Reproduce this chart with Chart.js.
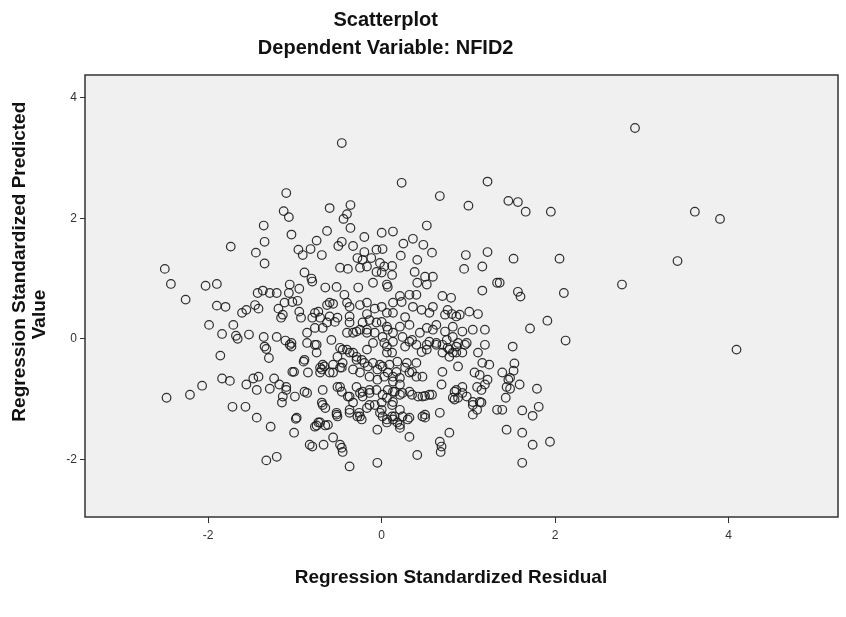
<!DOCTYPE html>
<html>
<head>
<meta charset="utf-8">
<script src="https://cdn.jsdelivr.net/npm/chart.js@4.4.1/dist/chart.umd.min.js"></script>
<style>
  html, body { margin: 0; padding: 0; background: #fff; }
  #wrap { width: 846px; height: 617px; }
</style>
</head>
<body>
<div id="wrap"><canvas id="myChart"></canvas></div>
<script>
// residual (x), predicted (y) per case
const cases = [
  // right side
  [2.92,3.50],[1.46,2.29],[1.57,2.27],[1.66,2.11],[1.95,2.11],[3.61,2.11],[3.90,1.99],[1.52,1.33],[2.05,1.33],[3.41,1.29],
  [1.36,0.93],[2.77,0.90],[1.57,0.78],[1.60,0.70],[2.10,0.76],[1.91,0.30],[1.71,0.17],[2.12,-0.03],[1.51,-0.13],[4.09,-0.18],
  [1.53,-0.41],[1.39,-0.56],[1.52,-0.53],[1.46,-0.68],[1.59,-0.76],[1.48,-0.83],[1.79,-0.83],[1.43,-0.98],[1.39,-1.18],[1.62,-1.19],
  [1.81,-1.13],[1.74,-1.28],[1.44,-1.51],[1.62,-1.56],[1.74,-1.76],[1.94,-1.71],[1.62,-2.06],[-0.46,3.25],
  // upper left
  [-1.10,2.42],[-1.13,2.12],[-1.07,2.02],[-1.36,1.88],[-1.04,1.73],[-1.35,1.61],[-1.74,1.53],[-1.45,1.43],[-1.35,1.25],[-0.96,1.48],
  [-0.91,1.39],[-0.82,1.49],[-0.75,1.63],[-0.69,1.39],[-0.63,1.79],[-0.60,2.17],[-2.50,1.16],[-2.43,0.91],[-2.26,0.65],[-2.03,0.88],
  [-1.90,0.91],[-1.90,0.55],[-1.80,0.53],[-0.89,1.10],[-0.81,1.00],[-0.80,0.95],[-0.65,0.85],[-1.06,0.90],[-0.95,0.83],[-1.43,0.76],
  [-1.37,0.80],[-1.29,0.76],[-1.21,0.76],[-1.07,0.76],[-1.46,0.56],[-1.42,0.50],[-1.56,0.48],[-1.61,0.43],[-1.19,0.50],[-1.14,0.40],
  [-1.16,0.35],[-1.12,0.60],[-1.03,0.61],[-0.97,0.63],[-0.95,0.45],[-0.93,0.35],[-0.80,0.35],[-0.73,0.45],[-0.63,0.56],[-0.71,0.35],
  [-1.99,0.23],[-1.71,0.23],
  // lower left
  [-1.84,0.08],[-1.68,0.05],[-1.66,0.00],[-1.53,0.07],[-1.36,0.03],[-1.35,-0.13],[-1.33,-0.17],[-1.30,-0.32],[-1.21,0.03],[-1.11,-0.03],
  [-1.06,-0.10],[-1.04,-0.13],[-0.86,-0.07],[-0.75,-0.10],[-0.75,-0.23],[-1.86,-0.28],[-1.01,-0.55],[-0.90,-0.38],[-0.85,-0.56],[-0.69,-0.51],
  [-1.84,-0.66],[-1.75,-0.70],[-1.56,-0.76],[-1.48,-0.66],[-1.42,-0.63],[-1.44,-0.85],[-1.29,-0.83],[-1.24,-0.66],[-1.18,-0.76],[-1.10,-0.80],
  [-1.14,-0.96],[-1.15,-1.06],[-1.00,-0.96],[-0.86,-0.90],[-0.68,-0.85],[-0.68,-1.10],[-2.07,-0.78],[-2.21,-0.93],[-2.48,-0.98],[-1.72,-1.13],
  [-1.57,-1.13],[-1.44,-1.31],[-1.28,-1.46],[-0.99,-1.33],[-1.01,-1.56],[-0.75,-1.44],[-0.73,-1.39],[-0.65,-1.44],[-0.80,-1.79],[-0.67,-1.76],
  [-1.33,-2.02],[-1.21,-1.96],
  // upper middle
  [-0.36,2.22],[-0.44,1.99],[-0.40,2.07],[-0.36,1.84],[-0.20,1.69],[0.00,1.76],[-0.46,1.61],[-0.50,1.54],[-0.33,1.54],[-0.20,1.44],
  [-0.06,1.48],[0.01,1.49],[-0.28,1.34],[-0.22,1.31],[-0.12,1.34],[-0.48,1.18],[-0.39,1.16],[-0.25,1.18],[-0.17,1.20],[-0.02,1.26],
  [0.03,1.20],[-0.06,1.11],[0.00,1.10],[-0.52,0.86],[-0.43,0.73],[-0.27,0.85],[-0.10,0.93],[0.06,0.90],[-0.60,0.60],[-0.56,0.58],
  [-0.40,0.60],[-0.37,0.53],[-0.25,0.56],[-0.17,0.60],[-0.08,0.50],[-0.17,0.41],[0.00,0.53],[0.06,0.43],[-0.37,0.37],[-0.60,0.37],
  [-0.51,0.35],
  [0.23,2.59],[0.67,2.37],[1.00,2.21],[1.22,2.61],[0.52,1.88],[0.13,1.78],[0.25,1.58],[0.36,1.66],[0.48,1.56],[0.58,1.43],
  [0.22,1.38],[0.41,1.31],[0.38,1.11],[0.50,1.03],[0.59,1.03],[0.52,0.90],[0.41,0.93],[0.12,1.06],[0.07,0.86],[0.97,1.39],
  [0.95,1.16],[1.16,1.20],[1.22,1.44],[1.16,0.80],[0.70,0.71],[0.80,0.68],[0.21,0.71],[0.32,0.73],[0.40,0.73],
  [1.33,0.93],[0.12,1.21],[1.01,0.45],[1.11,0.41],[0.90,0.40],[0.76,0.48],[0.81,0.41],[0.59,0.53],[0.55,0.43],[0.46,0.48],
  [0.36,0.53],[0.23,0.61],[0.13,0.60],[0.13,0.43],[0.27,0.36],
  // centre
  [-0.68,0.18],[-0.58,-0.02],[-0.77,-0.10],[-0.40,0.10],[-0.29,0.12],[-0.17,0.15],[-0.06,0.27],[0.00,0.28],[0.07,0.15],[0.21,0.20],
  [0.32,0.23],[0.44,0.10],[0.52,0.18],[0.63,0.23],[0.73,0.12],[0.82,0.20],[0.93,0.12],[1.05,0.15],[1.19,0.15],[1.19,-0.10],
  [0.96,-0.10],[0.86,-0.13],[0.78,-0.18],[0.70,-0.10],[0.86,-0.23],[0.93,-0.23],[1.11,-0.23],[1.16,-0.40],[1.07,-0.56],[1.13,-0.60],
  [0.52,-0.10],[0.63,-0.10],[0.35,-0.02],[0.27,-0.13],[0.13,-0.05],[0.06,-0.13],[0.12,-0.23],[-0.10,-0.07],[-0.17,-0.18],[-0.23,-0.35],
  [-0.29,-0.30],[-0.37,-0.23],[-0.45,-0.18],[-0.51,-0.30],[-0.66,-0.46],[-0.71,-0.56],[-0.56,-0.56],[-0.46,-0.48],[-0.33,-0.51],[-0.25,-0.56],
  [-0.16,-0.46],[-0.02,-0.43],[0.09,-0.43],[0.18,-0.38],[0.29,-0.40],[0.40,-0.40],[0.47,-0.63],[0.32,-0.56],[0.21,-0.65],[0.13,-0.63],
  [0.03,-0.63],[-0.05,-0.68],[-0.14,-0.63],[0.70,-0.55],[0.69,-0.76],[0.86,-0.85],[0.93,-0.80],[0.98,-0.96],[0.84,-1.01],[1.05,-1.05],
  [1.10,-1.18],[1.05,-1.26],[1.15,-1.06],[0.55,-0.93],[0.47,-0.96],[0.32,-0.88],[0.21,-0.93],[0.13,-0.88],[0.06,-0.98],[-0.06,-0.85],
  [-0.14,-0.90],[-0.22,-0.88],[-0.29,-0.80],[-0.37,-0.96],[-0.48,-0.80],[-0.46,-0.88],[0.67,-1.23],[0.78,-1.56],[0.67,-1.71],[0.69,-1.79],
  [0.68,-1.88],[0.41,-1.93],[-0.05,-2.06],[-0.37,-2.12],[-0.83,-1.76],[-0.56,-1.64],[-0.46,-1.81],[-0.45,-1.88],[-0.52,-1.26],[-0.51,-1.29],
  [-0.37,-1.18],[-0.25,-1.29],[-0.23,-1.34],[-0.02,-1.23],[-0.05,-1.51],[0.12,-1.29],[0.18,-1.39],[0.30,-1.34],[0.32,-1.63],[0.50,-1.26],
  [0.50,-1.31],[0.21,-1.48],[0.06,-1.34],[0.00,-1.06],[0.13,-1.05],[-0.14,-1.10],[-0.17,-1.15],
  [1.48,-0.65],[1.44,-0.80],[1.33,-1.18],[0.88,-0.46],[0.88,-0.07],[0.82,0.03],[0.98,-0.07],[0.86,0.37],[0.73,0.40],[1.24,-0.43],
  [1.10,-0.80],[1.15,-0.85],[1.13,-1.05],[1.05,-1.10],[1.19,-0.76],[1.22,-0.68],[0.93,-0.90],[0.88,-0.98],[0.82,-0.98],[0.84,-0.88],
  [0.59,0.15],[0.55,-0.05],[0.52,-0.18],[0.46,-0.22],[0.40,-0.10],[0.32,-0.05],[0.24,0.03],[0.13,0.10],[0.06,0.20],[0.01,0.03],
  [0.03,-0.07],[0.06,-0.23],[0.75,-0.02],[0.76,-0.15],[0.82,-0.23],[0.78,-0.30],[0.70,-0.23],[0.63,-0.07],[0.07,-0.56],[0.17,-0.55],
  [0.27,-0.48],[0.35,-0.55],[0.40,-0.63],[0.13,-0.71],[0.21,-0.76],[0.07,-0.85],[0.15,-0.88],[0.24,-0.90],[0.35,-0.93],[0.42,-0.96],
  [0.50,-0.95],[0.58,-0.93],[0.12,-1.10],[0.21,-1.18],[0.15,-1.29],[0.24,-1.29],[0.32,-1.31],[0.21,-1.43],[0.13,-1.34],[0.47,-1.29],
  [0.01,-1.29],[0.06,-1.39],
  [-1.04,-0.07],[-0.89,-0.35],[-1.03,-0.55],[-0.86,0.10],[-0.77,0.18],[-0.77,0.43],[-0.63,0.27],[-0.54,0.28],[-0.48,-0.15],[-0.71,-0.48],
  [-0.68,-0.43],[-0.56,-0.43],[-0.60,-0.56],[-0.48,-0.48],[-0.45,-0.40],[-0.37,0.27],[-0.33,0.10],[-0.25,0.15],[-0.22,0.27],[-0.14,0.31],
  [-0.17,0.10],[-0.08,0.10],[-0.40,-0.18],[-0.33,-0.23],[-0.29,-0.35],[-0.20,-0.40],[-0.10,-0.40],[-0.05,-0.51],[0.01,-0.46],[-1.10,-0.85],
  [-0.89,-0.88],[-0.51,-0.80],[-0.39,-0.96],[-0.33,-1.06],[-0.25,-0.90],[-0.22,-0.96],[-0.14,-0.85],[0.01,-0.93],[-0.08,-1.10],[0.00,-1.18],
  [-0.69,-1.06],[-0.65,-1.15],[-0.77,-1.46],[-0.71,-1.39],[-0.62,-1.43],[-0.52,-1.23],[-0.37,-1.23],[-0.28,-1.29],[-0.26,-1.23],[-0.98,-1.31],
  [-0.48,-1.76]
];

const xTicks = [-2, 0, 2, 4];
const yTicks = [-2, 0, 2, 4];
const xRange = [-3.42, 5.26];
const yRange = [-2.96, 4.38];

const FONT = 'Liberation Sans, Arial, sans-serif';

// grey plot area with a dark frame, like the SPSS output
const plotFrame = {
  id: 'plotFrame',
  beforeDatasetsDraw(chart) {
    const a = chart.chartArea, c = chart.ctx;
    c.save();
    c.fillStyle = '#f0f0f0';
    c.fillRect(a.left, a.top, a.right - a.left, a.bottom - a.top);
    c.restore();
  },
  afterDatasetsDraw(chart) {
    const a = chart.chartArea, c = chart.ctx;
    c.save();
    c.strokeStyle = '#333';
    c.lineWidth = 1.5;
    c.strokeRect(a.left, a.top, a.right - a.left, a.bottom - a.top);
    c.restore();
  }
};

const ctx = document.getElementById('myChart');
new Chart(ctx, {
  type: 'scatter',
  data: {
    datasets: [{
      data: cases.map(p => ({x: p[0], y: p[1]})),
      pointRadius: 4.3,
      pointBorderWidth: 1.2,
      pointBorderColor: 'rgba(25,25,25,0.9)',
      pointBackgroundColor: 'transparent',
      clip: false
    }]
  },
  options: {
    responsive: true,
    maintainAspectRatio: false,
    animation: false,
    layout: { padding: { left: 0, right: 8, top: 0, bottom: 0 } },
    plugins: {
      legend: { display: false },
      tooltip: { enabled: false },
      title: {
        display: true,
        // trailing spaces pull the centred lines a little left, as in the original
        text: ['Scatterplot            ', 'Dependent Variable: NFID2            '],
        color: '#111',
        font: { family: FONT, size: 20, weight: 'bold', lineHeight: 1.4 },
        padding: { top: 6, bottom: 13 }
      }
    },
    scales: {
      x: {
        type: 'linear',
        min: xRange[0],
        max: xRange[1],
        afterBuildTicks: s => { s.ticks = xTicks.map(v => ({value: v})); },
        afterFit: s => { s.height = 100; },
        grid: { drawOnChartArea: false, tickLength: 6, color: '#333', tickColor: '#333' },
        border: { display: false },
        ticks: { color: '#333', padding: 5, font: { family: FONT, size: 12 } },
        title: {
          display: true,
          text: 'Regression Standardized Residual    ',
          color: '#111',
          font: { family: FONT, size: 19, weight: 'bold', lineHeight: 1.2 },
          padding: { bottom: 28 }
        }
      },
      y: {
        type: 'linear',
        min: yRange[0],
        max: yRange[1],
        afterBuildTicks: s => { s.ticks = yTicks.map(v => ({value: v})); },
        afterFit: s => { s.width = 85; },
        grid: { drawOnChartArea: false, tickLength: 5, color: '#333', tickColor: '#333' },
        border: { display: false },
        ticks: { color: '#333', padding: 3, font: { family: FONT, size: 12 } },
        title: {
          display: true,
          text: ['             Regression Standardized Predicted', 'Value       '],
          color: '#111',
          font: { family: FONT, size: 19, weight: 'bold', lineHeight: 1.05 },
          padding: { top: 10 }
        }
      }
    }
  },
  plugins: [plotFrame]
});
</script>
</body>
</html>
